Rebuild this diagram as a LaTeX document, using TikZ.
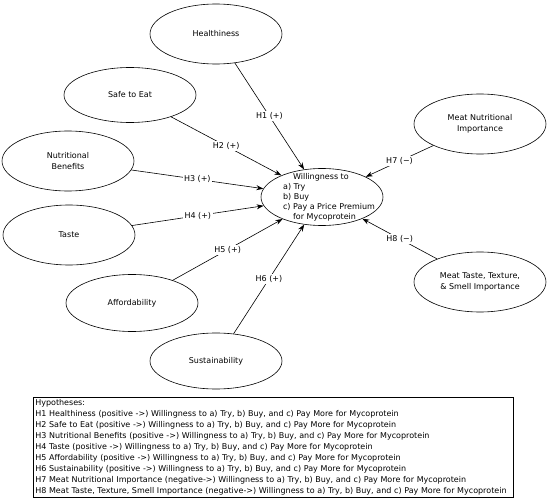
\documentclass[tikz,border=0pt]{standalone}
\usepackage{fontspec}
\setmainfont{DejaVu Sans}
\usetikzlibrary{arrows.meta, shapes.geometric}

\begin{document}
\begin{tikzpicture}[x=1pt, y=-1pt,
  construct/.style={draw, ellipse, line width=0.6pt, minimum width=132pt, minimum height=60pt, inner sep=0pt, align=center, font=\fontsize{8}{10.5}\selectfont},
  hyparrow/.style={-{Stealth[length=7pt, width=5pt]}, line width=0.6pt},
  hyplabel/.style={fill=white, inner sep=1.5pt, font=\fontsize{8}{9}\selectfont}]
\useasboundingbox (0,0) rectangle (550,503);
% Predictors (left side)
\node[construct] (health) at (216,34) {Healthiness};
\node[construct, minimum height=55pt] (safe) at (130,95) {Safe to Eat};
\node[construct] (nutri) at (68,161) {Nutritional\\Benefits};
\node[construct] (taste) at (69,235) {Taste};
\node[construct, minimum height=57pt] (afford) at (132,303) {Affordability};
\node[construct, minimum height=56pt] (sustain) at (216,361) {Sustainability};
% Predictors (right side)
\node[construct] (meatnutri) at (480,124) {Meat Nutritional\\Importance};
\node[construct] (meattaste) at (480,282) {Meat Taste, Texture,\\\& Smell Importance};
% Outcome
\node[construct, minimum width=122pt, minimum height=57pt] (will) at (322,197) {};
\node[align=left, inner sep=0pt, font=\fontsize{8}{10}\selectfont] (willtext) at ([xshift=7pt]will.center) {\hspace{10pt}Willingness to\\a) Try\\b) Buy\\c) Pay a Price Premium\\\hspace{10pt}for Mycoprotein};
% Hypothesised paths
\draw[hyparrow] (health) -- node[hyplabel] {H1 (+)} (will);
\draw[hyparrow] (safe) -- node[hyplabel] {H2 (+)} (will);
\draw[hyparrow] (nutri) -- node[hyplabel] {H3 (+)} (will);
\draw[hyparrow] (taste) -- node[hyplabel] {H4 (+)} (will);
\draw[hyparrow] (afford) -- node[hyplabel] {H5 (+)} (will);
\draw[hyparrow] (sustain) -- node[hyplabel] {H6 (+)} (will);
\draw[hyparrow] (meatnutri) -- node[hyplabel] {H7 (−)} (will);
\draw[hyparrow] (meattaste) -- node[hyplabel] {H8 (−)} (will);
% Hypotheses list
\node[draw, line width=0.6pt, anchor=north west, text width=476pt, minimum height=100pt, align=left, inner sep=2pt, font=\fontsize{8}{11}\selectfont] (hyplist) at (33,397) {Hypotheses:\\
H1 Healthiness (positive ->) Willingness to a) Try, b) Buy, and c) Pay More for Mycoprotein\\
H2 Safe to Eat (positive ->) Willingness to a) Try, b) Buy, and c) Pay More for Mycoprotein\\
H3 Nutritional Benefits (positive ->) Willingness to a) Try, b) Buy, and c) Pay More for Mycoprotein\\
H4 Taste (positive ->) Willingness to a) Try, b) Buy, and c) Pay More for Mycoprotein\\
H5 Affordability (positive ->) Willingness to a) Try, b) Buy, and c) Pay More for Mycoprotein\\
H6 Sustainability (positive ->) Willingness to a) Try, b) Buy, and c) Pay More for Mycoprotein\\
H7 Meat Nutritional Importance (negative->) Willingness to a) Try, b) Buy, and c) Pay More for Mycoprotein\\
H8 Meat Taste, Texture, Smell Importance (negative->) Willingness to a) Try, b) Buy, and c) Pay More for Mycoprotein};
\end{tikzpicture}
\end{document}
